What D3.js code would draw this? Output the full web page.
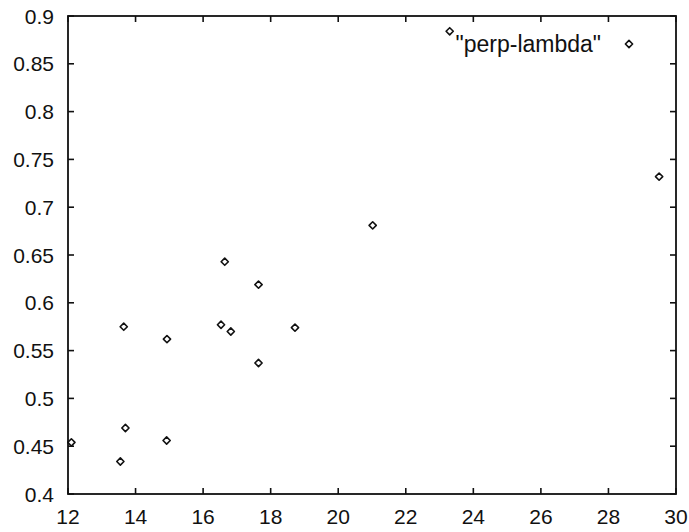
<!DOCTYPE html>
<meta charset="UTF-8">
<script src="https://d3js.org/d3.v7.min.js"></script>
<style>
body { margin: 0; background: #fff; }
text { font-family: "Liberation Sans", Arial, Helvetica, sans-serif; fill: #111; }
</style>
<div id="my_dataviz"></div>
<script>

// data
var xValues = [12.1, 13.55, 13.7, 14.92, 13.65, 14.93, 16.53, 16.82, 16.64, 17.64, 17.64, 18.72, 21.02, 29.5, 23.3]
var yValues = [0.454, 0.434, 0.469, 0.456, 0.575, 0.562, 0.577, 0.570, 0.643, 0.619, 0.537, 0.574, 0.681, 0.732, 0.884]
var xTicks = [12, 14, 16, 18, 20, 22, 24, 26, 28, 30]
var yTicks = [0.4, 0.45, 0.5, 0.55, 0.6, 0.65, 0.7, 0.75, 0.8, 0.85, 0.9]
var seriesName = '"perp-lambda"'

var width = 689
var height = 532
// plot frame (note: "top" is reserved on window, so use other names)
var plotLeft = 68, plotRight = 676, plotTop = 16, plotBottom = 494

var svg = d3.select("#my_dataviz")
    .append("svg")
        .attr("width", width)
        .attr("height", height)

var x = d3.scaleLinear().domain([12, 30]).range([plotLeft, plotRight])
var y = d3.scaleLinear().domain([0.4, 0.9]).range([plotBottom, plotTop])

var data = xValues.map(function(d, i){ return {x: d, y: yValues[i]} })

// ticks on all four sides, pointing inward
var tickLen = 6
var g = svg.append("g").attr("stroke", "#111").attr("stroke-width", 1.6)
xTicks.forEach(function(t){
    g.append("line").attr("x1", x(t)).attr("x2", x(t)).attr("y1", plotBottom).attr("y2", plotBottom - tickLen)
    g.append("line").attr("x1", x(t)).attr("x2", x(t)).attr("y1", plotTop).attr("y2", plotTop + tickLen)
})
yTicks.forEach(function(t){
    g.append("line").attr("y1", y(t)).attr("y2", y(t)).attr("x1", plotLeft).attr("x2", plotLeft + tickLen)
    g.append("line").attr("y1", y(t)).attr("y2", y(t)).attr("x1", plotRight).attr("x2", plotRight - tickLen)
})

// frame
svg.append("rect")
    .attr("x", plotLeft).attr("y", plotTop)
    .attr("width", plotRight - plotLeft).attr("height", plotBottom - plotTop)
    .attr("fill", "none").attr("stroke", "#111").attr("stroke-width", 1.8)

// tick labels
svg.append("g").selectAll("text")
    .data(xTicks).enter().append("text")
        .attr("x", function(d){ return x(d) })
        .attr("y", 524)
        .attr("text-anchor", "middle")
        .style("font-size", "21px")
        .text(function(d){ return d })

svg.append("g").selectAll("text")
    .data(yTicks).enter().append("text")
        .attr("x", 54)
        .attr("y", function(d){ return y(d) })
        .attr("dy", "0.36em")
        .attr("text-anchor", "end")
        .style("font-size", "21px")
        .text(function(d){ return d })

// small hollow diamonds like gnuplot points
var diamond = function(cx, cy){
    var r = 3.6
    return "M" + cx + "," + (cy - r) + "L" + (cx + r) + "," + cy + "L" + cx + "," + (cy + r) + "L" + (cx - r) + "," + cy + "Z"
}

svg.append("g").selectAll("path")
    .data(data).enter().append("path")
        .attr("d", function(d){ return diamond(x(d.x), y(d.y)) })
        .attr("fill", "none")
        .attr("stroke", "#111")
        .attr("stroke-width", 1.6)
        .attr("stroke-linejoin", "round")

// legend
svg.append("text")
    .attr("x", 601)
    .attr("y", 52)
    .attr("text-anchor", "end")
    .style("font-size", "23px")
    .text(seriesName)
svg.append("path")
    .attr("d", diamond(629, 44))
    .attr("fill", "none")
    .attr("stroke", "#111")
    .attr("stroke-width", 1.6)
    .attr("stroke-linejoin", "round")

</script>
